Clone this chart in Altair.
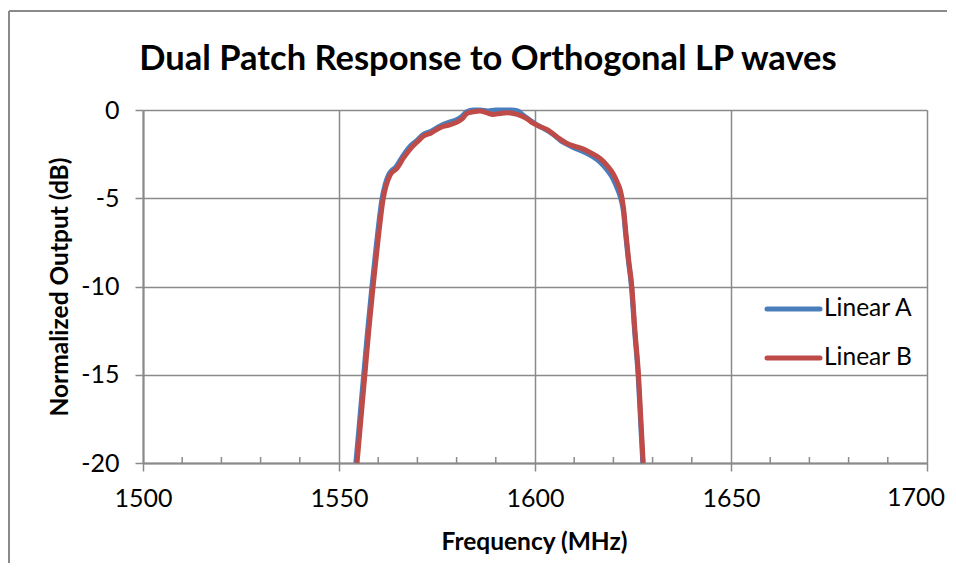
import altair as alt
import pandas as pd

# ---- data ----
freq_a = [1554.3, 1555.3, 1556.3, 1557.3, 1558.4, 1559.6, 1561.0, 1561.8, 1562.8, 1564.6,
          1566.3, 1568.4, 1570.0, 1571.4, 1573.5, 1575.8, 1578.0, 1580.0, 1581.4, 1582.6,
          1584.3, 1586.0, 1588.0, 1590.0, 1592.0, 1594.0, 1595.6, 1597.0, 1598.6, 1600.2,
          1601.8, 1603.4, 1605.0, 1606.6, 1608.2, 1610.0, 1612.2, 1614.4, 1616.6, 1618.4,
          1619.9, 1620.9, 1621.6, 1622.1, 1622.6, 1623.1, 1623.8, 1624.6, 1625.4, 1626.3,
          1626.9, 1627.5]
out_a = [-20, -17.5, -15, -12.5, -10, -7.5, -5, -4.2, -3.6, -3.2,
         -2.6, -2.0, -1.7, -1.4, -1.2, -0.9, -0.7, -0.55, -0.35, -0.1,
         0.0, 0.0, -0.05, 0.0, 0.0, 0.0, -0.05, -0.3, -0.55, -0.8,
         -1.0, -1.2, -1.45, -1.75, -1.95, -2.15, -2.35, -2.6, -2.95, -3.4,
         -3.9, -4.4, -4.8, -5.2, -5.8, -7.0, -8.5, -10, -12.5, -15,
         -17.5, -20]

freq_b = [1554.6, 1555.6, 1556.6, 1557.6, 1558.7, 1559.9, 1561.3, 1562.0, 1563.0, 1564.8,
          1566.5, 1568.6, 1570.0, 1571.4, 1573.5, 1575.8, 1578.0, 1580.0, 1581.4, 1582.6,
          1584.3, 1586.0, 1587.6, 1589.3, 1591.0, 1592.8, 1594.5, 1596.2, 1598.0, 1599.5,
          1601.4, 1603.0, 1604.6, 1606.4, 1608.2, 1610.0, 1612.2, 1614.4, 1616.6, 1618.4,
          1619.9, 1621.0, 1621.7, 1622.2, 1622.6, 1623.2, 1623.9, 1624.7, 1625.5, 1626.4,
          1627.0, 1627.6]
out_b = [-20, -17.5, -15, -12.5, -10, -7.5, -5, -4.3, -3.7, -3.3,
         -2.7, -2.1, -1.8, -1.5, -1.3, -1.0, -0.85, -0.7, -0.5, -0.2,
         -0.1, -0.05, -0.15, -0.25, -0.2, -0.15, -0.2, -0.3, -0.5, -0.75,
         -0.95, -1.1, -1.35, -1.65, -1.9, -2.05, -2.2, -2.45, -2.75, -3.15,
         -3.6, -4.1, -4.5, -5.0, -5.6, -7.0, -8.5, -10, -12.5, -15,
         -17.5, -20]

series_names = ["Linear A", "Linear B"]
series_colors = ["#4A7EBB", "#BE4B48"]
x_major = [1500, 1550, 1600, 1650, 1700]
x_last = [1700]
x_minor = [f for f in range(1510, 1700, 10) if f % 50 != 0]
y_ticks = [-20, -15, -10, -5, 0]
title_text = "Dual Patch Response to Orthogonal LP waves"
x_title = "Frequency (MHz)"
y_title = "Normalized Output (dB)"

FONT = "Lato"
GRID = "#8A8A8A"

df_a = pd.DataFrame({"freq": freq_a, "out": out_a})
df_b = pd.DataFrame({"freq": freq_b, "out": out_b})
df_minor = pd.DataFrame({"freq": x_minor})
df_last = pd.DataFrame({"freq": x_last, "lab": [str(v) for v in x_last]})
one = pd.DataFrame({"k": [0]})

W, H = 784, 353
LABEL_PAD = 15
TICK = 8

xscale = alt.Scale(domain=[1500, 1700], nice=False, zero=False)
yscale = alt.Scale(domain=[-20, 0], nice=False, zero=False)

xaxis = alt.Axis(values=x_major, grid=True, gridColor=GRID, gridWidth=1.5,
                 domainColor=GRID, domainWidth=2, tickColor=GRID, tickWidth=1.5,
                 tickSize=TICK, labelFont=FONT, labelFontSize=25, labelColor="#000",
                 labelPadding=LABEL_PAD, labelFlush=False,
                 labelExpr="datum.value == 1700 ? '' : '' + datum.value",
                 title=x_title, titleFont=FONT, titleFontSize=24.5,
                 titleFontWeight="bold", titleColor="#000", titleX=391, titleY=79,
                 titleBaseline="middle", titleAlign="center")
yaxis = alt.Axis(values=y_ticks, grid=True, gridColor=GRID, gridWidth=1.5,
                 domainColor=GRID, domainWidth=2, tickColor=GRID, tickWidth=1.5,
                 tickSize=TICK, labelFont=FONT, labelFontSize=25, labelColor="#000",
                 labelPadding=16, labelFlush=False, labelExpr="'' + datum.value",
                 title=y_title, titleFont=FONT, titleFontSize=24.5,
                 titleFontWeight="bold", titleColor="#000", titleX=-83, titleY=H / 2,
                 titleBaseline="middle", titleAlign="center", titleAngle=270)

line_a = alt.Chart(df_a).mark_line(color=series_colors[0], strokeWidth=5,
                                   interpolate="monotone").encode(
    x=alt.X("freq:Q", scale=xscale, axis=xaxis),
    y=alt.Y("out:Q", scale=yscale, axis=yaxis),
)
line_b = alt.Chart(df_b).mark_line(color=series_colors[1], strokeWidth=5,
                                   interpolate="monotone").encode(
    x=alt.X("freq:Q", scale=xscale),
    y=alt.Y("out:Q", scale=yscale),
)

minor = alt.Chart(df_minor).mark_rule(color=GRID, strokeWidth=1.5).encode(
    x=alt.X("freq:Q", scale=xscale),
    y=alt.value(H - 6),
    y2=alt.value(H),
)

# last x tick label, nudged so it stays inside the page
last_label = alt.Chart(df_last).mark_text(font=FONT, fontSize=25, color="#000",
                                          align="center", baseline="top", dx=-11).encode(
    x=alt.X("freq:Q", scale=xscale),
    y=alt.value(H + TICK + LABEL_PAD),
    text="lab:N",
)

title = alt.Chart(one).mark_text(text=title_text, font=FONT, fontSize=34.5,
                                 fontWeight="bold", color="#000", align="center",
                                 baseline="alphabetic").encode(
    x=alt.value(345), y=alt.value(-40))

legend_layers = []
for i, (name, col) in enumerate(zip(series_names, series_colors)):
    ly = 199 + 49 * i
    legend_layers.append(
        alt.Chart(one).mark_rule(color=col, strokeWidth=5, strokeCap="round").encode(
            x=alt.value(624), x2=alt.value(677), y=alt.value(ly)))
    legend_layers.append(
        alt.Chart(one).mark_text(text=name, font=FONT, fontSize=24.5, color="#000",
                                 align="left", baseline="middle").encode(
            x=alt.value(681), y=alt.value(ly)))

border_v = alt.Chart(one).mark_rule(color=GRID, strokeWidth=2).encode(
    x=alt.value(-134), y=alt.value(-99), y2=alt.value(H + 100))
border_h = alt.Chart(one).mark_rule(color=GRID, strokeWidth=2).encode(
    x=alt.value(-134), x2=alt.value(W + 20), y=alt.value(-99))

chart = alt.layer(
    minor, line_a, line_b, last_label, title, border_v, border_h, *legend_layers
).properties(
    width=W, height=H,
    autosize=alt.AutoSizeParams(type="none"),
    padding={"left": 135, "top": 102, "right": 20, "bottom": 100},
).configure_view(stroke=None).configure(background="white")

chart.save("out.html", embed_options={"renderer": "svg", "actions": False})
